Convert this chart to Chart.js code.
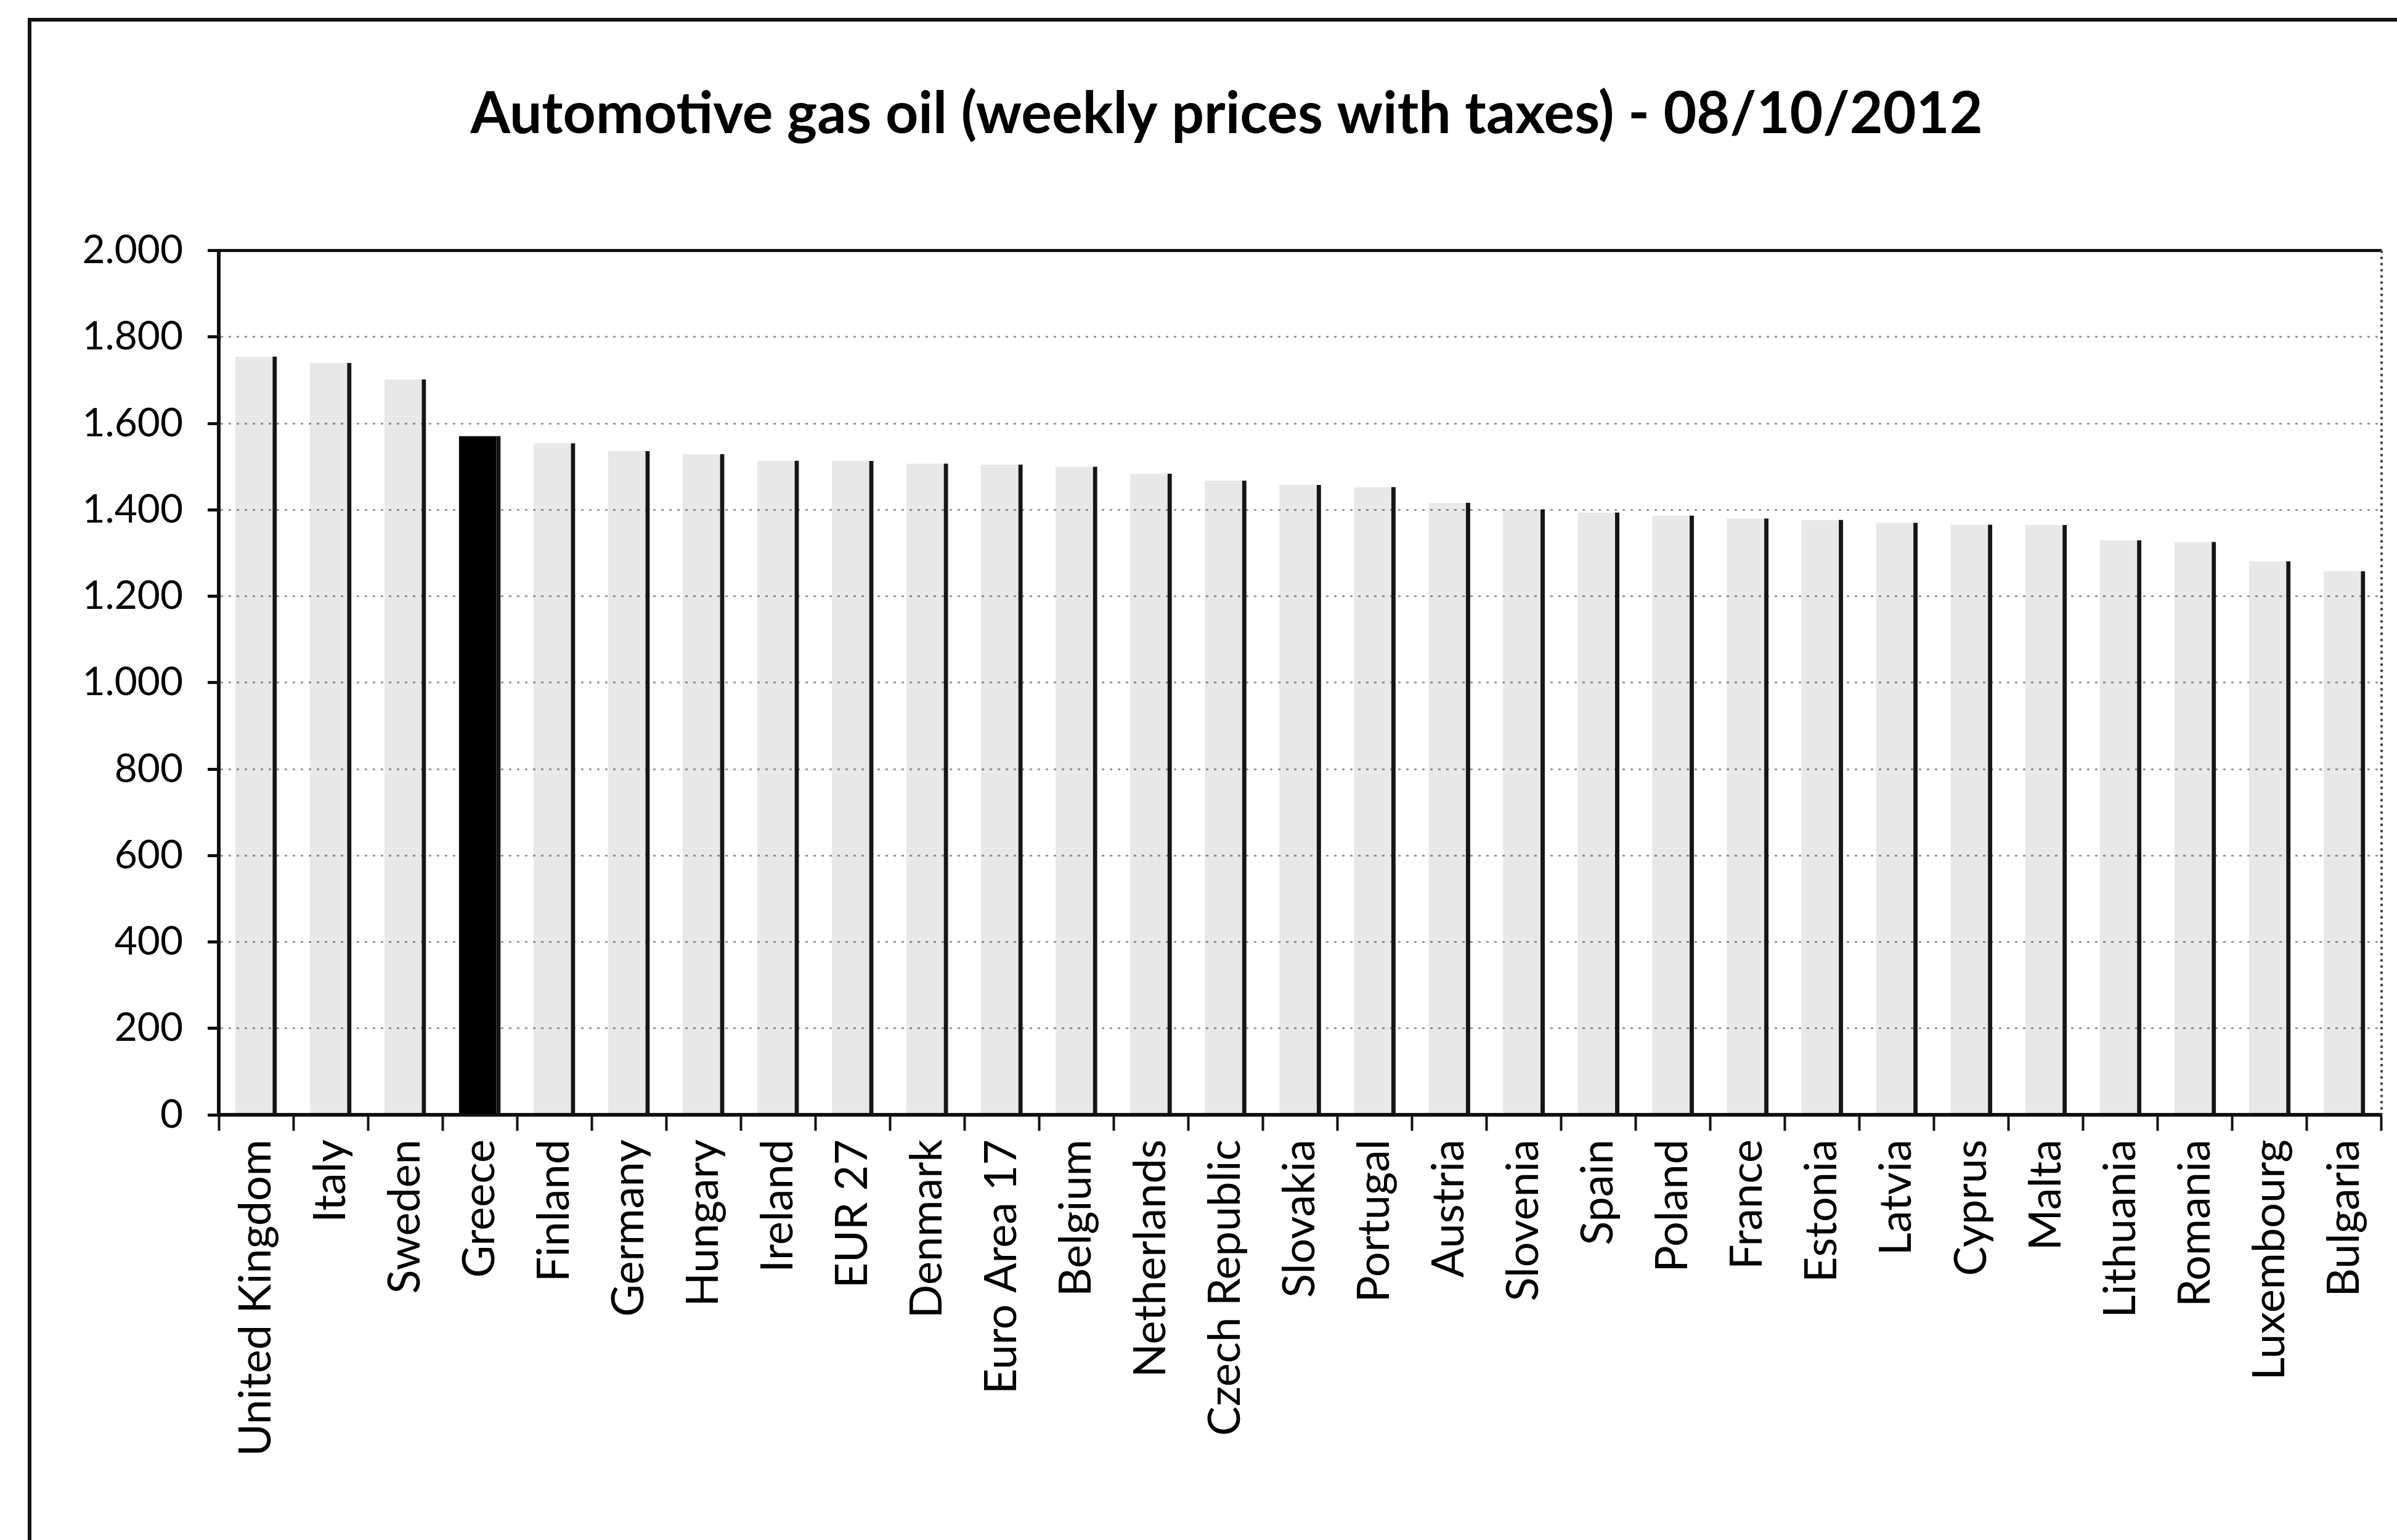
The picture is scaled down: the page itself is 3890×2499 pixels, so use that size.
<!DOCTYPE html>
<html>
<head>
<meta charset="utf-8">
<title>Automotive gas oil - 08/10/2012</title>
<script src="https://cdn.jsdelivr.net/npm/chart.js@4.4.1/dist/chart.umd.min.js"></script>
<style>
  html, body { margin: 0; padding: 0; background: #fff; }
  #wrap { position: relative; width: 3890px; height: 2499px; }
</style>
</head>
<body>
<div id="wrap"><canvas id="barCanvas"></canvas></div>
<script>
// pays (ordre du graphique)
const countries = ["United Kingdom", "Italy", "Sweden", "Greece", "Finland", "Germany", "Hungary",
    "Ireland", "EUR 27", "Denmark", "Euro Area 17", "Belgium", "Netherlands", "Czech Republic",
    "Slovakia", "Portugal", "Austria", "Slovenia", "Spain", "Poland", "France", "Estonia", "Latvia",
    "Cyprus", "Malta", "Lithuania", "Romania", "Luxembourg", "Bulgaria"];

// prix avec taxes
const prices = [1755, 1740, 1702, 1571, 1554, 1536, 1529,
    1514, 1513, 1507, 1505, 1500, 1484, 1468,
    1458, 1453, 1416, 1401, 1394, 1387, 1380, 1377, 1370,
    1366, 1365, 1330, 1326, 1281, 1258];

// axe y
const yMin = 0;
const yMax = 2000;
const yStep = 200;

const highlighted = "Greece";

const titleText = "Automotive gas oil (weekly prices with taxes) - 08/10/2012";

// format 2.000 / 1.800
function fmt(v) {
    return String(v).replace(/\B(?=(\d{3})+(?!\d))/g, ".");
}

// cadre + bord haut + bord droit pointillé
const framePlugin = {
    id: "frame",
    afterDraw(chart) {
        const ctx = chart.ctx;
        const a = chart.chartArea;
        ctx.save();
        ctx.strokeStyle = "#111";
        ctx.lineWidth = 6;
        ctx.beginPath();
        ctx.moveTo(48, chart.height);
        ctx.lineTo(48, 32);
        ctx.lineTo(chart.width, 32);
        ctx.stroke();

        ctx.lineWidth = 5;
        ctx.beginPath();
        ctx.moveTo(a.left, a.top);
        ctx.lineTo(a.right, a.top);
        ctx.stroke();

        ctx.strokeStyle = "#444";
        ctx.lineWidth = 4;
        ctx.setLineDash([4, 6]);
        ctx.beginPath();
        ctx.moveTo(a.right, a.top);
        ctx.lineTo(a.right, a.bottom);
        ctx.stroke();
        ctx.restore();
    }
};

const barCanvas = document.getElementById("barCanvas");
const barChart = new Chart(barCanvas, {
    type: "bar",
    data: {
        labels: countries,
        datasets: [{
            data: prices,
            backgroundColor: countries.map(c => c === highlighted ? "#000" : "rgba(0,0,0,0.09)"),
            borderColor: "#161616",
            borderWidth: {top: 0, right: 7, bottom: 0, left: 0},
            borderSkipped: false,
            barPercentage: 0.56,
            categoryPercentage: 1
        }]
    },
    options: {
        responsive: true,
        maintainAspectRatio: false,
        animation: false,
        layout: {
            padding: {left: 116, right: 25, top: 0, bottom: 0}
        },
        plugins: {
            legend: {display: false},
            tooltip: {enabled: false},
            title: {
                display: true,
                text: titleText,
                color: "#000",
                font: {family: "Lato", size: 93, weight: "bold", lineHeight: 1.2},
                padding: {top: 130, bottom: 165}
            }
        },
        scales: {
            x: {
                offset: true,
                grid: {
                    display: true,
                    offset: true,
                    drawOnChartArea: false,
                    drawTicks: true,
                    tickLength: 26,
                    tickColor: "#111",
                    tickWidth: 4
                },
                border: {display: true, color: "#111", width: 6},
                ticks: {
                    autoSkip: false,
                    maxRotation: 90,
                    minRotation: 90,
                    padding: 14,
                    color: "#000",
                    font: {family: "Lato", size: 72}
                },
                afterFit(scale) {
                    scale.height = 690;
                    scale.paddingLeft = 0;
                    scale.paddingRight = 0;
                }
            },
            y: {
                min: yMin,
                max: yMax,
                ticks: {
                    stepSize: yStep,
                    padding: 40,
                    color: "#000",
                    font: {family: "Lato", size: 64},
                    callback: v => fmt(v)
                },
                grid: {
                    color: "#9a9a9a",
                    lineWidth: 3,
                    drawTicks: true,
                    tickLength: 18,
                    tickColor: "#111",
                    tickWidth: 5
                },
                border: {display: true, color: "#111", width: 6, dash: [4, 9]},
                afterFit(scale) {
                    scale.width = 239;
                }
            }
        }
    },
    plugins: [framePlugin]
});
</script>
</body>
</html>
